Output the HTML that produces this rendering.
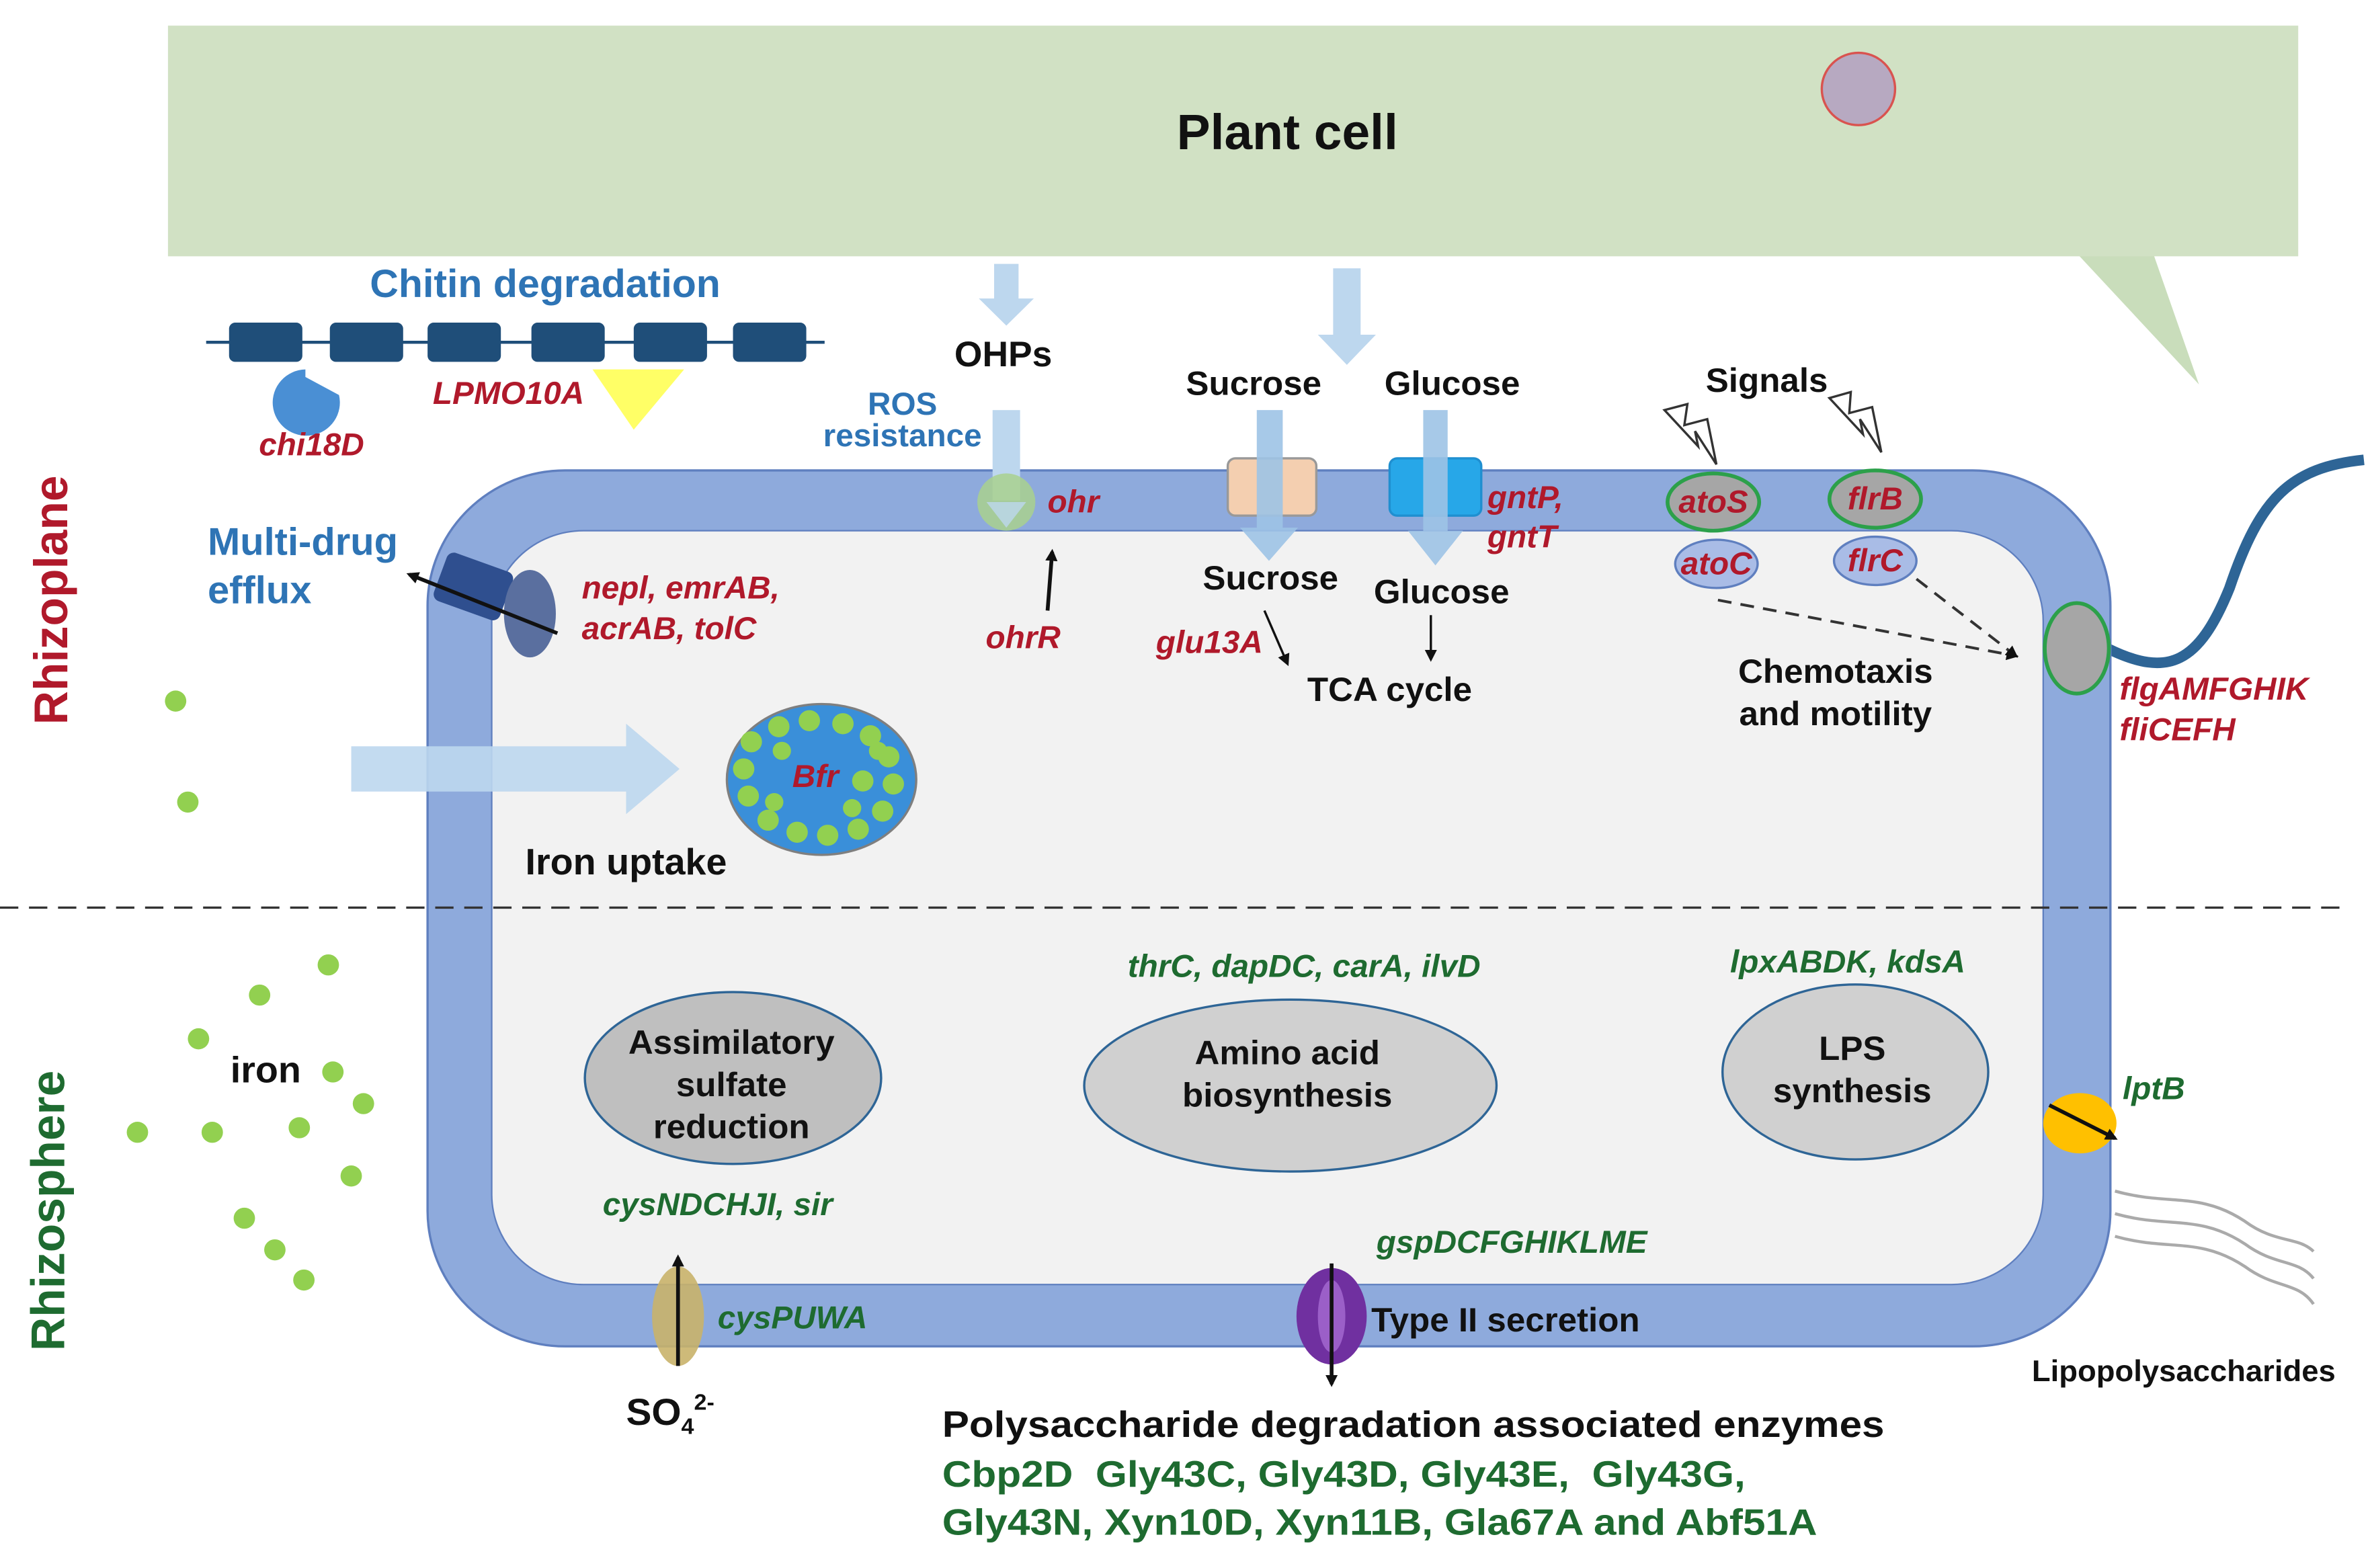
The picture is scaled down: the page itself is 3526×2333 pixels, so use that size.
<!DOCTYPE html>
<html><head><meta charset="utf-8"><style>
html,body{margin:0;padding:0;background:#fff;}
svg{display:block;}
text{font-family:"Liberation Sans",Arial,sans-serif;font-weight:bold;}
.r{fill:#b0192b;font-style:italic;}
.g{fill:#1e6b30;font-style:italic;}
.b{fill:#2e74b5;}
.k{fill:#111;}
</style></head><body>
<svg width="3526" height="2333" viewBox="0 0 1552 1040" preserveAspectRatio="none" xmlns="http://www.w3.org/2000/svg">
<defs>
<marker id="ah" markerWidth="8" markerHeight="8" refX="6" refY="4" orient="auto" markerUnits="userSpaceOnUse"><path d="M0,0 L8,4 L0,8 z" fill="#111"/></marker>
</defs>
<rect width="1552" height="1040" fill="#fff"/>
<polygon points="1360,168 1440,255 1410,168" fill="#c9ddbb"/>
<rect x="110" y="17" width="1395" height="153" fill="#d1e1c4"/>
<text x="843" y="99" font-size="33" text-anchor="middle" class="k">Plant cell</text>
<circle cx="1217" cy="59" r="24" fill="#b7a9c1" stroke="#d9534f" stroke-width="1.5"/>
<path d="M1380,430 C1420,450 1440,440 1460,390 C1480,330 1500,310 1548,305" fill="none" stroke="#2e6596" stroke-width="7"/>
<g fill="none" stroke="#aaa" stroke-width="2">
<path d="M1385,790 C1420,800 1440,790 1470,810 C1490,825 1505,820 1515,830"/>
<path d="M1385,805 C1420,815 1440,805 1470,825 C1490,840 1505,835 1515,848"/>
<path d="M1385,820 C1420,830 1440,820 1470,840 C1490,855 1505,850 1515,865"/>
</g>
<rect x="280" y="312" width="1102" height="581" rx="90" fill="#8eaadc" stroke="#5f7fbf" stroke-width="1.5"/>
<rect x="322" y="352" width="1016" height="500" rx="60" fill="#f2f2f2" stroke="#5f7fbf" stroke-width="1"/>
<line x1="0" y1="602" x2="1535" y2="602" stroke="#333" stroke-width="1.5" stroke-dasharray="12,7"/>
<text transform="translate(44,398) rotate(-90)" font-size="31" text-anchor="middle" fill="#b0192b">Rhizoplane</text>
<text transform="translate(42,803) rotate(-90)" font-size="31" text-anchor="middle" fill="#1e6b30">Rhizosphere</text>
<text x="357" y="197" font-size="26" text-anchor="middle" class="b">Chitin degradation</text>
<line x1="135" y1="227" x2="540" y2="227" stroke="#1f4e79" stroke-width="2"/>
<g fill="#1f4e79">
<rect x="150" y="214" width="48" height="26" rx="4"/><rect x="216" y="214" width="48" height="26" rx="4"/>
<rect x="280" y="214" width="48" height="26" rx="4"/><rect x="348" y="214" width="48" height="26" rx="4"/>
<rect x="415" y="214" width="48" height="26" rx="4"/><rect x="480" y="214" width="48" height="26" rx="4"/>
</g>
<path d="M200,245 A22,22 0 1 0 222,262 L200,250 Z" fill="#4a8fd4"/>
<polygon points="388,245 448,245 415,285" fill="#ffff66"/>
<text x="204" y="302" font-size="21" class="r" text-anchor="middle">chi18D</text>
<text x="333" y="268" font-size="21" class="r" text-anchor="middle">LPMO10A</text>
<g fill="#bdd7ee">
<polygon points="651,175 667,175 667,198 677,198 659,216 641,198 651,198"/>
<polygon points="873,178 891,178 891,222 901,222 882,242 863,222 873,222"/>
<rect x="650" y="272" width="18" height="60"/>
</g>
<text x="657" y="243" font-size="23.5" text-anchor="middle" class="k">OHPs</text>
<text x="591" y="275" font-size="21" text-anchor="middle" class="b">ROS</text>
<text x="591" y="296" font-size="21" text-anchor="middle" class="b">resistance</text>
<circle cx="659" cy="333" r="19" fill="#a9d18e" opacity="0.85"/>
<polygon points="646,333 672,333 659,350" fill="#bdd7ee" opacity="0.8"/>
<text x="686" y="340" font-size="21" class="r">ohr</text>
<line x1="686" y1="405" x2="689" y2="366" stroke="#111" stroke-width="2.5" marker-end="url(#ah)"/>
<text x="670" y="430" font-size="21" class="r" text-anchor="middle">ohrR</text>
<text x="821" y="262" font-size="22.5" text-anchor="middle" class="k">Sucrose</text>
<text x="951" y="262" font-size="22.5" text-anchor="middle" class="k">Glucose</text>
<rect x="804" y="304" width="58" height="38" rx="5" fill="#f4cfb0" stroke="#999" stroke-width="1.5"/>
<rect x="910" y="304" width="60" height="38" rx="5" fill="#27a7e8" stroke="#1f8fd0" stroke-width="1.5"/>
<g fill="#9dc3e6" opacity="0.9">
<polygon points="823,272 840,272 840,350 850,350 831,372 812,350 823,350"/>
<polygon points="932,272 948,272 948,352 958,352 940,375 922,352 932,352"/>
</g>
<text x="974" y="337" font-size="21" class="r">gntP,</text>
<text x="974" y="363" font-size="21" class="r">gntT</text>
<text x="832" y="391" font-size="22.5" text-anchor="middle" class="k">Sucrose</text>
<text x="944" y="400" font-size="22.5" text-anchor="middle" class="k">Glucose</text>
<text x="792" y="433" font-size="21" class="r" text-anchor="middle">glu13A</text>
<line x1="828" y1="405" x2="843" y2="440" stroke="#111" stroke-width="1.5" marker-end="url(#ah)"/>
<line x1="937" y1="408" x2="937" y2="437" stroke="#111" stroke-width="1.5" marker-end="url(#ah)"/>
<text x="910" y="465" font-size="22.5" text-anchor="middle" class="k">TCA cycle</text>
<text x="1157" y="260" font-size="22.5" text-anchor="middle" class="k">Signals</text>
<path d="M1090,272 L1105,268 L1103,282 L1118,278 L1124,308 L1110,286 L1112,296 Z" fill="#fff" stroke="#333" stroke-width="1.5"/>
<path d="M1198,264 L1212,260 L1211,274 L1226,270 L1232,300 L1218,278 L1220,288 Z" fill="#fff" stroke="#333" stroke-width="1.5"/>
<ellipse cx="1122" cy="333" rx="30" ry="19" fill="#a6a6a6" stroke="#2ca04a" stroke-width="2.5"/>
<ellipse cx="1228" cy="331" rx="30" ry="19" fill="#a6a6a6" stroke="#2ca04a" stroke-width="2.5"/>
<ellipse cx="1124" cy="374" rx="27" ry="16" fill="#a9bce6" stroke="#5f7fbf" stroke-width="1.5"/>
<ellipse cx="1228" cy="372" rx="27" ry="16" fill="#a9bce6" stroke="#5f7fbf" stroke-width="1.5"/>
<text x="1122" y="340" font-size="21" class="r" text-anchor="middle">atoS</text>
<text x="1228" y="338" font-size="21" class="r" text-anchor="middle">flrB</text>
<text x="1124" y="381" font-size="21" class="r" text-anchor="middle">atoC</text>
<text x="1228" y="379" font-size="21" class="r" text-anchor="middle">flrC</text>
<line x1="1125" y1="398" x2="1320" y2="435" stroke="#333" stroke-width="1.8" stroke-dasharray="9,6" marker-end="url(#ah)"/>
<line x1="1255" y1="384" x2="1320" y2="435" stroke="#333" stroke-width="1.8" stroke-dasharray="9,6" marker-end="url(#ah)"/>
<text x="1202" y="453" font-size="22.5" text-anchor="middle" class="k">Chemotaxis</text>
<text x="1202" y="481" font-size="22.5" text-anchor="middle" class="k">and motility</text>
<ellipse cx="1360" cy="430" rx="21" ry="30" fill="#a6a6a6" stroke="#2ca04a" stroke-width="2.5"/>
<text x="1388" y="464" font-size="21" class="r">flgAMFGHIK</text>
<text x="1388" y="491" font-size="21" class="r">fliCEFH</text>
<text x="136" y="368" font-size="25.5" class="b">Multi-drug</text>
<text x="136" y="400" font-size="25.5" class="b">efflux</text>
<rect x="287" y="372" width="46" height="34" rx="5" fill="#2f4f8f" transform="rotate(20 310 389)"/>
<ellipse cx="347" cy="407" rx="17" ry="29" fill="#5a6f9f"/>
<line x1="365" y1="420" x2="268" y2="381" stroke="#111" stroke-width="2.5" marker-end="url(#ah)"/>
<text x="381" y="397" font-size="21" class="r">nepl, emrAB,</text>
<text x="381" y="424" font-size="21" class="r">acrAB, tolC</text>
<polygon points="230,495 410,495 410,480 445,510 410,540 410,525 230,525" fill="#bdd7ee" opacity="0.9"/>
<ellipse cx="538" cy="517" rx="62" ry="50" fill="#3a8fd9" stroke="#7f7f7f" stroke-width="1.5"/>
<g fill="#92d050">
<circle cx="492" cy="492" r="7"/><circle cx="510" cy="482" r="7"/><circle cx="530" cy="478" r="7"/><circle cx="552" cy="480" r="7"/><circle cx="570" cy="488" r="7"/><circle cx="582" cy="502" r="7"/><circle cx="585" cy="520" r="7"/><circle cx="578" cy="538" r="7"/><circle cx="562" cy="550" r="7"/><circle cx="542" cy="554" r="7"/><circle cx="522" cy="552" r="7"/><circle cx="503" cy="544" r="7"/><circle cx="490" cy="528" r="7"/><circle cx="487" cy="510" r="7"/><circle cx="565" cy="518" r="7"/><circle cx="575" cy="498" r="6"/><circle cx="558" cy="536" r="6"/><circle cx="512" cy="498" r="6"/><circle cx="507" cy="532" r="6"/>
</g>
<text x="534" y="522" font-size="21" class="r" text-anchor="middle">Bfr</text>
<text x="410" y="580" font-size="24.5" text-anchor="middle" class="k">Iron uptake</text>
<g fill="#92d050">
<circle cx="115" cy="465" r="7"/><circle cx="123" cy="532" r="7"/><circle cx="215" cy="640" r="7"/><circle cx="170" cy="660" r="7"/><circle cx="130" cy="689" r="7"/><circle cx="218" cy="711" r="7"/><circle cx="238" cy="732" r="7"/><circle cx="90" cy="751" r="7"/><circle cx="139" cy="751" r="7"/><circle cx="196" cy="748" r="7"/><circle cx="230" cy="780" r="7"/><circle cx="160" cy="808" r="7"/><circle cx="180" cy="829" r="7"/><circle cx="199" cy="849" r="7"/>
</g>
<text x="174" y="718" font-size="24.5" text-anchor="middle" class="k">iron</text>
<ellipse cx="480" cy="715" rx="97" ry="57" fill="#bfbfbf" stroke="#2e6596" stroke-width="1.5"/>
<text x="479" y="699" font-size="22.5" text-anchor="middle" class="k">Assimilatory</text>
<text x="479" y="727" font-size="22.5" text-anchor="middle" class="k">sulfate</text>
<text x="479" y="755" font-size="22.5" text-anchor="middle" class="k">reduction</text>
<ellipse cx="845" cy="720" rx="135" ry="57" fill="#d0d0d0" stroke="#2e6596" stroke-width="1.5"/>
<text x="843" y="706" font-size="22.5" text-anchor="middle" class="k">Amino acid</text>
<text x="843" y="734" font-size="22.5" text-anchor="middle" class="k">biosynthesis</text>
<ellipse cx="1215" cy="711" rx="87" ry="58" fill="#d0d0d0" stroke="#2e6596" stroke-width="1.5"/>
<text x="1213" y="703" font-size="22.5" text-anchor="middle" class="k">LPS</text>
<text x="1213" y="731" font-size="22.5" text-anchor="middle" class="k">synthesis</text>
<text x="854" y="648" font-size="21" class="g" text-anchor="middle">thrC, dapDC, carA, ilvD</text>
<text x="1210" y="645" font-size="21" class="g" text-anchor="middle">lpxABDK, kdsA</text>
<text x="470" y="806" font-size="21" class="g" text-anchor="middle">cysNDCHJI, sir</text>
<text x="990" y="831" font-size="21" class="g" text-anchor="middle">gspDCFGHIKLME</text>
<ellipse cx="1362" cy="745" rx="24" ry="20" fill="#ffc000"/>
<line x1="1342" y1="733" x2="1385" y2="755" stroke="#111" stroke-width="2.5" marker-end="url(#ah)"/>
<text x="1390" y="729" font-size="21" class="g">lptB</text>
<text x="1430" y="916" font-size="20" text-anchor="middle" class="k">Lipopolysaccharides</text>
<ellipse cx="444" cy="873" rx="17" ry="33" fill="#c9b26a" opacity="0.9"/>
<line x1="444" y1="906" x2="444" y2="834" stroke="#111" stroke-width="2.5" marker-end="url(#ah)"/>
<text x="470" y="881" font-size="21" class="g">cysPUWA</text>
<text x="410" y="945" font-size="25" class="k">SO<tspan font-size="15" dy="6">4</tspan><tspan font-size="15" dy="-16">2-</tspan></text>
<ellipse cx="872" cy="873" rx="23" ry="32" fill="#7030a0"/>
<ellipse cx="872" cy="873" rx="9" ry="24" fill="#9b5fc8"/>
<line x1="872" y1="838" x2="872" y2="918" stroke="#111" stroke-width="2.5" marker-end="url(#ah)"/>
<text x="898" y="883" font-size="22.5" class="k">Type II secretion</text>
<text x="617" y="953" font-size="24.5" class="k" textLength="617" lengthAdjust="spacingAndGlyphs">Polysaccharide degradation associated enzymes</text>
<text x="617" y="986" font-size="24.5" fill="#1e6b30" xml:space="preserve" textLength="526" lengthAdjust="spacingAndGlyphs">Cbp2D  Gly43C, Gly43D, Gly43E,  Gly43G,</text>
<text x="617" y="1018" font-size="24.5" fill="#1e6b30" textLength="573" lengthAdjust="spacingAndGlyphs">Gly43N, Xyn10D, Xyn11B, Gla67A and Abf51A</text>
</svg>
</body></html>
